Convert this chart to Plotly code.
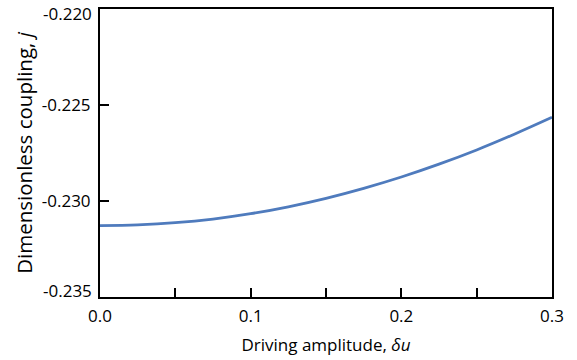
import plotly.graph_objects as go

# Dimensionless coupling j as a function of driving amplitude δu
drive_amp = [0.0, 0.025, 0.05, 0.075, 0.1, 0.125, 0.15, 0.175, 0.2, 0.225, 0.25, 0.275, 0.3]
coupling = [-0.23128, -0.23124, -0.23113, -0.23094, -0.23066, -0.23030, -0.22986,
            -0.22934, -0.22875, -0.22808, -0.22734, -0.22652, -0.22564]

x_ticks = [0.0, 0.05, 0.1, 0.15, 0.2, 0.25, 0.3]
x_tick_text = ["0.0", "", "0.1", "", "0.2", "", "0.3"]
y_ticks = [-0.235, -0.230, -0.225, -0.220]
# end labels of the y axis are drawn as annotations so they stay inside the frame
y_tick_text = ["", "-0.230", "-0.225", ""]
y_end_labels = {-0.220: "-0.220", -0.235: "-0.235"}

FONT = "Open Sans"
TICK_SIZE = 17
XTITLE_SIZE = 17
YTITLE_SIZE = 20.5

fig = go.Figure()
fig.add_trace(go.Scatter(
    x=drive_amp, y=coupling, mode="lines",
    line=dict(color="#4f7bbd", width=2.8, shape="spline"),
    showlegend=False,
))

axis_common = dict(
    showgrid=False, zeroline=False,
    showline=True, linecolor="black", linewidth=2,
    mirror=True, ticks="inside", ticklen=9, tickwidth=1.5, tickcolor="black",
    tickfont=dict(family=FONT, size=TICK_SIZE, color="black"),
)

fig.update_xaxes(
    range=[0, 0.3], tickvals=x_ticks, ticktext=x_tick_text,
    ticklabelstandoff=3,
    title=dict(text="Driving amplitude, <i>δu</i>",
               font=dict(family=FONT, size=XTITLE_SIZE, color="black"), standoff=13),
    **axis_common,
)
fig.update_yaxes(
    range=[-0.235, -0.220], tickvals=y_ticks, ticktext=y_tick_text,
    ticklabelstandoff=4,
    title=dict(text="Dimensionless coupling, <i>j</i>",
               font=dict(family=FONT, size=YTITLE_SIZE, color="black"), standoff=4),
    **axis_common,
)

for yv, txt in y_end_labels.items():
    top = yv == max(y_ticks)
    fig.add_annotation(
        x=0, xref="paper", y=yv, yref="y", text=txt, showarrow=False,
        xanchor="right", yanchor="top" if top else "bottom",
        xshift=-6, yshift=9 if top else -7,
        font=dict(family=FONT, size=TICK_SIZE, color="black"),
    )

fig.update_layout(
    width=577, height=360,
    margin=dict(l=100, r=25, t=7, b=63),
    paper_bgcolor="white", plot_bgcolor="white",
    font=dict(family=FONT, color="black"),
)

fig.write_html("out.html")
